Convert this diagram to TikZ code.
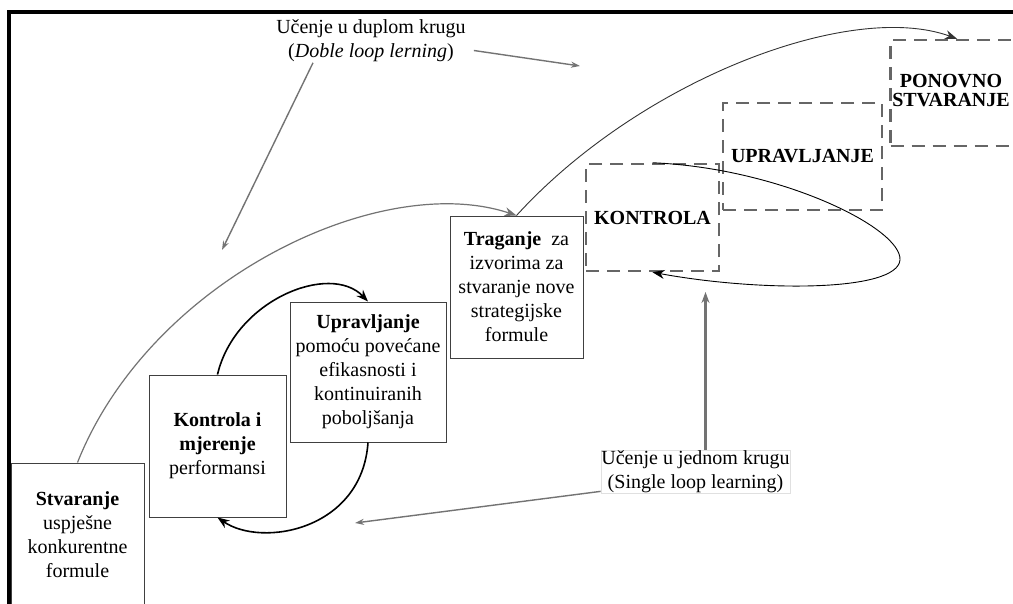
\documentclass[tikz,border=0pt]{standalone}
\usepackage{fontspec}
\setmainfont{Liberation Serif}
\usetikzlibrary{arrows.meta}
\begin{document}
\begin{tikzpicture}[x=1pt,y=-1pt,
  every node/.style={font=\fontsize{20}{24}\selectfont},
  box/.style={draw=black!75, line width=1pt, rectangle, align=center, inner sep=0pt, fill=white},
  dbox/.style={draw=black!60, line width=2.5pt, dash pattern=on 13pt off 8pt, rectangle, align=center, inner sep=0pt, font=\fontsize{20}{19}\selectfont\bfseries},
  dtext/.style={align=center, inner sep=0pt, font=\fontsize{20}{19}\selectfont\bfseries},
  lbl/.style={align=center, inner sep=1pt},
  blackarr/.style={line width=1.6pt, -{Stealth[length=12pt,width=9pt]}},
  thinarr/.style={line width=0.9pt, -{Stealth[length=12pt,width=9pt]}},
  grayarr/.style={draw=black!55, line width=1.4pt, -{Stealth[length=9pt,width=6pt]}},
  graycurve/.style={draw=black!55, line width=1.2pt, -{Stealth[length=12pt,width=9pt]}}
]
\clip (0,0) rectangle (1013,603);
\fill[white] (0,0) rectangle (1013,603);
% frame
\draw[line width=3.5pt] (9,640) -- (9,12) -- (1040,12);

% solid boxes
\node[box, minimum width=133pt, minimum height=143pt] (stv) at (77.5,534.5)
  {\textbf{Stvaranje}\\uspješne\\konkurentne\\formule};
\node[box, minimum width=137pt, minimum height=142pt] (kim) at (217.5,446)
  {\textbf{Kontrola i}\\\textbf{mjerenje}\\performansi};
\node[box, minimum width=156pt, minimum height=140pt] (upr) at (368,372)
  {\textbf{Upravljanje}\\pomoću povećane\\efikasnosti i\\kontinuiranih\\poboljšanja};
\node[box, minimum width=133pt, minimum height=142pt] (trag) at (516.5,287)
  {\textbf{Traganje} \ za\\izvorima za\\stvaranje nove\\strategijske\\formule};

% dashed boxes
\node[dbox, minimum width=133pt, minimum height=107pt] (kon) at (652.5,217.5) {KONTROLA};
\node[dbox, minimum width=159pt, minimum height=107pt] (uprd) at (802.5,156.5) {UPRAVLJANJE};
\node[dbox, minimum width=133pt, minimum height=106pt] (pon) at (957,93) {};
\node[dtext] (pontxt) at (951,90.5) {PONOVNO\\STVARANJE};

% labels
\node[lbl] (dbl) at (371,40.5) {Učenje u duplom krugu\\(\textit{Doble loop lerning})};
\node[lbl, draw=black!12, line width=0.5pt, inner sep=0.5pt] (sgl) at (695.5,471.5)
  {Učenje u jednom krugu\\(Single loop learning)};

\coordinate (dtA) at (222,250);
\coordinate (dtB) at (580,66);
\coordinate (stA) at (705.5,292);
\coordinate (stB) at (355,523);

% label arrows
\draw[grayarr] ([xshift=-58pt]dbl.south) -- (dtA);
\draw[grayarr] ([xshift=7pt,yshift=-10pt]dbl.east) -- (dtB);
\draw[grayarr, line width=2.8pt, -{Stealth[length=11pt,width=8pt]}] ([xshift=10pt]sgl.north) -- (stA);
\draw[grayarr] ([yshift=2pt]sgl.south west) -- (stB);

% curves
\draw[graycurve] (stv.north) .. controls (150,280) and (380,170) .. (trag.north);
\draw[thinarr, draw=black!80] (trag.north) .. controls (640,80) and (850,0) .. (pon.north);
\draw[thinarr] (kon.north) .. controls (780,168) and (902,228) .. (900,260)
  .. controls (897,292) and (760,292) .. (kon.south);
\draw[blackarr] (kim.north) .. controls (235,300) and (330,262) .. (upr.north);
\draw[blackarr] (upr.south) .. controls (362,530) and (262,548) .. (kim.south);
\end{tikzpicture}
\end{document}
